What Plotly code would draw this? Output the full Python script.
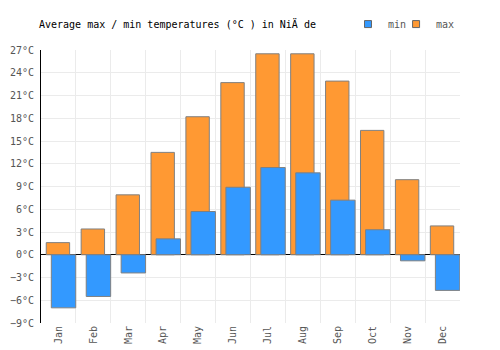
import plotly.graph_objects as go

months = ["Jan", "Feb", "Mar", "Apr", "May", "Jun", "Jul", "Aug", "Sep", "Oct", "Nov", "Dec"]
max_temps = [1.6, 3.4, 7.9, 13.5, 18.2, 22.7, 26.5, 26.5, 22.9, 16.4, 9.9, 3.8]
min_temps = [-7.0, -5.5, -2.4, 2.1, 5.7, 8.9, 11.5, 10.8, 7.2, 3.3, -0.8, -4.7]
y_ticks = [-9, -6, -3, 0, 3, 6, 9, 12, 15, 18, 21, 24, 27]
y_labels = [f"{v}°C".replace("-", "\u2212") for v in y_ticks]

FONT = "DejaVu Sans Mono"
ORANGE = "#FF9933"
BLUE = "#3399FF"
EDGE = "#808080"

fig = go.Figure()
fig.add_trace(go.Bar(
    x=months, y=max_temps, name="max", showlegend=False,
    marker=dict(color=ORANGE, line=dict(color=EDGE, width=1)),
    width=0.67, offset=-0.35,
))
fig.add_trace(go.Bar(
    x=months, y=min_temps, name="min", showlegend=False,
    marker=dict(color=BLUE, line=dict(color=EDGE, width=1)),
    width=0.70, offset=-0.205,
))
# legend entries
fig.add_trace(go.Scatter(
    x=[None], y=[None], mode="markers", name="min",
    marker=dict(symbol="square", size=7, color=BLUE, line=dict(color="#666", width=1)),
))
fig.add_trace(go.Scatter(
    x=[None], y=[None], mode="markers", name="max",
    marker=dict(symbol="square", size=7, color=ORANGE, line=dict(color="#666", width=1)),
))

fig.update_layout(
    width=500, height=350,
    margin=dict(l=41, r=40, t=50, b=27, autoexpand=False),
    paper_bgcolor="white", plot_bgcolor="white",
    barmode="overlay",
    font=dict(family=FONT, size=10, color="#555"),
    title=dict(
        text="Average max / min temperatures (°C ) in NiÄ de",
        x=39 / 500, xanchor="left", y=1 - 24 / 350, yanchor="middle",
        font=dict(family=FONT, size=10, color="#000"),
    ),
    legend=dict(
        orientation="h", x=1.0, xanchor="right", y=1.095, yanchor="middle",
        font=dict(family=FONT, size=10, color="#555"),
        itemwidth=30, bgcolor="rgba(0,0,0,0)", tracegroupgap=0,
        indentation=-15,
    ),
    xaxis=dict(
        type="category", tickson="boundaries", showgrid=True,
        gridcolor="#ebebeb", gridwidth=1, tickangle=-90,
        ticks="", showline=False, zeroline=False,
        tickfont=dict(family=FONT, size=10, color="#555"),
        range=[-0.5, 11.5], fixedrange=True,
    ),
    yaxis=dict(
        range=[-9, 27], tickmode="array", tickvals=y_ticks, ticktext=y_labels,
        showgrid=True, gridcolor="#ebebeb", gridwidth=1,
        zeroline=True, zerolinecolor="#000", zerolinewidth=1,
        showline=True, linecolor="#000", linewidth=1,
        ticks="outside", ticklen=4, tickcolor="rgba(0,0,0,0)",
        tickfont=dict(family=FONT, size=10, color="#555"),
    ),
)

fig.write_html("out.html")
